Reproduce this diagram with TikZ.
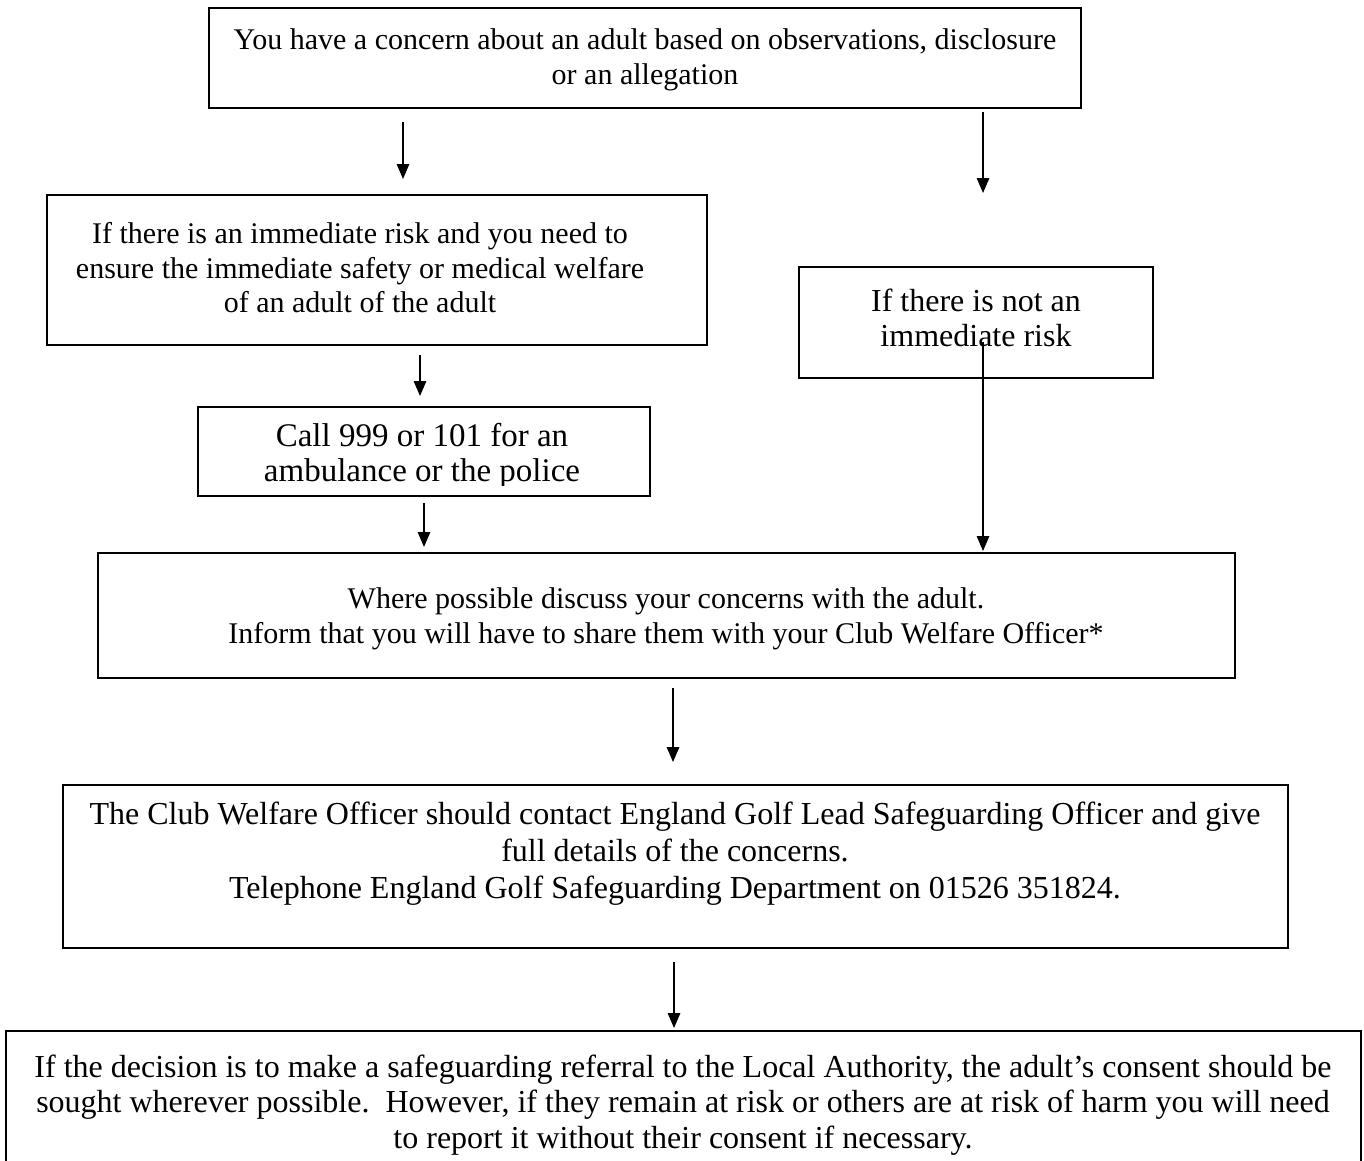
\documentclass[tikz,border=0pt]{standalone}
\usepackage{fontspec}
\setmainfont{Liberation Serif}
\usetikzlibrary{arrows.meta}
\begin{document}
\begin{tikzpicture}[x=0.4pt,y=-0.4pt,
  boxstyle/.style={draw=black, line width=0.8pt, rectangle, inner sep=0pt},
  txt/.style={align=center, inner sep=0pt, font=\fontsize{12}{13.8}\selectfont},
  txtb/.style={align=center, inner sep=0pt, font=\fontsize{12.8}{14.2}\selectfont},
  arr/.style={draw=black, line width=0.6pt, -{Triangle[length=6pt,width=5pt]}}]
\useasboundingbox (0,0) rectangle (1364,1160);
\clip (0,0) rectangle (1364,1160);
% boxes
\node[boxstyle, minimum width=872*0.4pt, minimum height=100*0.4pt] (b1) at (645,58) {};
\node[boxstyle, minimum width=660*0.4pt, minimum height=150*0.4pt] (b2) at (377,270) {};
\node[boxstyle, minimum width=354*0.4pt, minimum height=111*0.4pt] (b3) at (976,322.5) {};
\node[boxstyle, minimum width=452*0.4pt, minimum height=89*0.4pt] (b4) at (424,451.5) {};
\node[boxstyle, minimum width=1137*0.4pt, minimum height=125*0.4pt] (b5) at (666.5,615.5) {};
\node[boxstyle, minimum width=1225*0.4pt, minimum height=163*0.4pt] (b6) at (675.5,866.5) {};
\node[boxstyle, minimum width=1355*0.4pt, minimum height=200*0.4pt] (b7) at (683.5,1131) {};
% texts
\node[txt] (t1) at (645,60) {You have a concern about an adult based on observations, disclosure\\or an allegation};
\node[txt] (t2) at (360,268) {If there is an immediate risk and you need to\\ensure the immediate safety or medical welfare\\of an adult of the adult};
\node[txtb] (t3) at (976,318) {If there is not an\\immediate risk};
\begin{scope}
\clip (198,407) rectangle (652,485);
\node[align=center, inner sep=0pt, font=\fontsize{13.2}{14}\selectfont] (t4) at (422,456) {Call 999 or 101 for an\\ambulance or the police};
\end{scope}
\node[txt] (t5) at (666,619) {Where possible discuss your concerns with the adult.\\Inform that you will have to share them with your Club Welfare Officer*};
\node[align=center, inner sep=0pt, font=\fontsize{12.8}{14.8}\selectfont] (t6) at (675,854) {The Club Welfare Officer should contact England Golf Lead Safeguarding Officer and give\\full details of the concerns.\\Telephone England Golf Safeguarding Department on 01526 351824.};
\node[txtb] (t7) at (683,1105) {If the decision is to make a safeguarding referral to the Local Authority, the adult’s consent should be\\sought wherever possible.\ \ However, if they remain at risk or others are at risk of harm you will need\\to report it without their consent if necessary.};
% arrow end points
\coordinate (a1s) at (403,122); \coordinate (a1e) at (403,179);
\coordinate (a2s) at (983,112); \coordinate (a2e) at (983,193);
\coordinate (a3s) at (420,355); \coordinate (a3e) at (420,396);
\coordinate (a4s) at (424,503); \coordinate (a4e) at (424,547);
\coordinate (a5s) at (983,342); \coordinate (a5e) at (983,551);
\coordinate (a6s) at (673,688); \coordinate (a6e) at (673,762);
\coordinate (a7s) at (674,962); \coordinate (a7e) at (674,1028);
\draw[arr] (a1s) -- (a1e);
\draw[arr] (a2s) -- (a2e);
\draw[arr] (a3s) -- (a3e);
\draw[arr] (a4s) -- (a4e);
\draw[arr] (a5s) -- (a5e);
\draw[arr] (a6s) -- (a6e);
\draw[arr] (a7s) -- (a7e);
\end{tikzpicture}
\end{document}
